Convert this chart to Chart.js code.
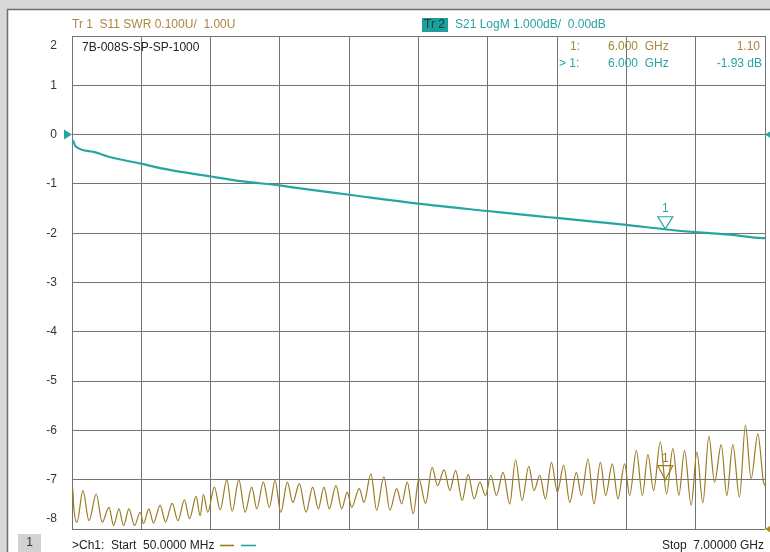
<!DOCTYPE html>
<html>
<head>
<meta charset="utf-8">
<script src="https://cdn.jsdelivr.net/npm/chart.js@4.4.1/dist/chart.umd.min.js"></script>
<style>
html,body{margin:0;padding:0;background:#fff;}
canvas{display:block;}
</style>
</head>
<body>
<canvas id="c" width="770" height="552" style="width:770px;height:552px"></canvas>
<script>
// ---- data ----
const xGridGHz = [0.05, 0.745, 1.44, 2.135, 2.83, 3.525, 4.22, 4.915, 5.61, 6.305, 7.0];
const yTickLabels = [2, 1, 0, -1, -2, -3, -4, -5, -6, -7, -8];

const s21Freq = [0.05,0.06,0.083,0.266,0.434,0.744,0.934,1.442,1.769,2.130,2.337,2.831,3.522,4.217,4.741,4.908,5.610,5.993,6.301,6.645,6.978,7.0];
const s21dB   = [-0.17,-0.12,-0.23,-0.35,-0.46,-0.59,-0.68,-0.85,-0.95,-1.03,-1.09,-1.22,-1.40,-1.55,-1.66,-1.69,-1.83,-1.92,-1.98,-2.03,-2.10,-2.10];

const s11Freq = [0.05,0.058,0.066,0.100,0.160,0.220,0.293,0.353,0.421,0.467,0.521,0.567,0.621,0.677,0.734,0.767,0.821,0.867,0.934,0.988,1.055,1.112,1.178,1.228,1.295,1.335,1.368,1.412,1.478,1.536,1.603,1.656,1.723,
1.786,1.853,1.903,1.969,2.029,2.086,2.144,2.210,2.264,2.330,2.397,2.464,2.520,2.577,2.630,2.697,2.755,2.811,2.855,2.931,2.978,3.048,3.105,3.178,3.238,3.306,3.356,3.412,3.472,
3.529,3.596,3.662,3.716,3.782,3.839,3.897,3.963,4.023,4.083,4.140,4.197,4.250,4.307,4.373,4.440,4.498,4.564,4.631,4.684,4.741,4.798,4.858,4.918,4.981,5.042,5.108,5.159,5.225,5.285,
5.349,5.402,5.469,5.525,5.592,5.643,5.710,5.770,5.826,5.883,5.950,6.013,6.076,6.136,6.193,6.260,6.317,6.377,6.437,6.494,6.561,6.617,6.677,6.744,6.804,6.861,6.928,6.985,7.0];
const s11SWR = [1.068,1.082,1.048,1.014,1.078,1.017,1.071,1.014,1.044,1.007,1.041,1.007,1.041,1.007,1.034,1.011,1.041,1.012,1.048,1.014,1.052,1.017,1.059,1.021,1.066,1.027,1.070,1.034,1.085,1.039,1.100,1.036,1.100,
1.034,1.085,1.041,1.095,1.044,1.098,1.034,1.095,1.054,1.092,1.034,1.085,1.041,1.085,1.041,1.088,1.041,1.075,1.044,1.082,1.054,1.112,1.038,1.106,1.038,1.082,1.051,1.095,1.031,
1.102,1.052,1.125,1.088,1.120,1.078,1.119,1.058,1.111,1.061,1.095,1.068,1.109,1.068,1.115,1.051,1.140,1.058,1.127,1.078,1.109,1.061,1.135,1.075,1.129,1.054,1.115,1.068,1.142,1.051,
1.135,1.068,1.132,1.061,1.132,1.068,1.159,1.068,1.151,1.078,1.177,1.071,1.163,1.068,1.159,1.048,1.156,1.053,1.188,1.095,1.171,1.068,1.171,1.065,1.210,1.102,1.193,1.095,1.088];

const markerFreq = 6.0;
const markerS11 = 1.10;
const markerS21 = -1.93;

const headerTr1 = "Tr 1  S11 SWR 0.100U/  1.00U";
const headerTr2 = "S21 LogM 1.000dB/  0.00dB";
const deviceName = "7B-008S-SP-SP-1000";
const startText = ">Ch1:  Start  50.0000 MHz";
const stopText = "Stop  7.00000 GHz";

// ---- styles ----
const BROWN = '#9a7b24';
const BROWN_TXT = '#a8893c';
const TEAL = '#26a6a2';
const TEAL_TXT = '#2aa2a2';
const FONT = "12px 'Liberation Sans', Arial, sans-serif";

function zip(a, b) { const n = Math.min(a.length, b.length); const r = []; for (let i = 0; i < n; i++) r.push({x: a[i], y: b[i]}); return r; }

function tri(ctx, x, y, w, h, dir) {
  ctx.beginPath();
  if (dir === 'down') { ctx.moveTo(x - w/2, y - h); ctx.lineTo(x + w/2, y - h); ctx.lineTo(x, y); }
  else if (dir === 'right') { ctx.moveTo(x - w, y - h/2); ctx.lineTo(x, y); ctx.lineTo(x - w, y + h/2); }
  else { ctx.moveTo(x + w, y - h/2); ctx.lineTo(x, y); ctx.lineTo(x + w, y + h/2); }
  ctx.closePath();
}

const overlay = {
  id: 'overlay',
  beforeDraw(chart) {
    const ctx = chart.ctx, W = chart.width, H = chart.height;
    ctx.save();
    ctx.fillStyle = '#ffffff'; ctx.fillRect(0, 0, W, H);
    ctx.fillStyle = '#d8d8d8'; ctx.fillRect(0, 0, W, 9); ctx.fillRect(0, 0, 7, H);
    ctx.strokeStyle = '#6e6e6e'; ctx.lineWidth = 1.5;
    ctx.beginPath(); ctx.moveTo(7.5, H); ctx.lineTo(7.5, 9.5); ctx.lineTo(W, 9.5); ctx.stroke();
    ctx.restore();
  },
  afterDatasetsDraw(chart) {
    const ctx = chart.ctx, xs = chart.scales.x, ys = chart.scales.y, y2 = chart.scales.y2;
    const mx = xs.getPixelForValue(markerFreq);
    ctx.save();
    ctx.lineWidth = 1.2;
    // S21 marker
    const m21y = ys.getPixelForValue(markerS21);
    ctx.strokeStyle = TEAL; tri(ctx, mx, m21y - 1, 15, 12, 'down'); ctx.stroke();
    ctx.fillStyle = TEAL; ctx.font = FONT; ctx.textAlign = 'center'; ctx.textBaseline = 'middle';
    ctx.fillText('1', mx, m21y - 21);
    // S11 marker
    const m11y = y2.getPixelForValue(markerS11);
    ctx.strokeStyle = BROWN; tri(ctx, mx, m11y, 15, 14, 'down'); ctx.stroke();
    ctx.fillStyle = BROWN; ctx.fillText('1', mx, m11y - 21);
    ctx.restore();
  },
  afterDraw(chart) {
    const ctx = chart.ctx, xs = chart.scales.x, ys = chart.scales.y, y2 = chart.scales.y2;
    const a = chart.chartArea;
    ctx.save();
    ctx.font = FONT;
    ctx.textBaseline = 'middle';
    // y tick labels
    ctx.fillStyle = '#333333'; ctx.textAlign = 'right';
    yTickLabels.forEach(v => {
      let py = ys.getPixelForValue(v);
      if (v === yTickLabels[0]) py += 10;
      if (v === yTickLabels[yTickLabels.length - 1]) py -= 10;
      ctx.fillText(String(v), 57, py);
    });
    // headers
    ctx.textAlign = 'left';
    ctx.fillStyle = BROWN_TXT; ctx.fillText(headerTr1, 72, 25);
    ctx.fillStyle = '#1e9e9c'; ctx.fillRect(422, 18, 26, 14);
    ctx.fillStyle = '#143c3c'; ctx.fillText('Tr 2', 424, 25);
    ctx.fillStyle = TEAL_TXT; ctx.fillText(headerTr2, 455, 25);
    // device name
    ctx.fillStyle = '#222222'; ctx.fillText(deviceName, 82, 48);
    // marker readout
    ctx.fillStyle = BROWN_TXT;
    ctx.fillText('1:', 570, 47);
    ctx.fillText('6.000  GHz', 608, 47);
    ctx.textAlign = 'right'; ctx.fillText(markerS11.toFixed(2), 760, 47);
    ctx.fillStyle = TEAL_TXT; ctx.textAlign = 'left';
    ctx.fillText('> 1:', 559, 64);
    ctx.fillText('6.000  GHz', 608, 64);
    ctx.textAlign = 'right'; ctx.fillText(markerS21.toFixed(2) + ' dB', 762, 64);
    // reference triangles
    const y0 = ys.getPixelForValue(0);
    ctx.fillStyle = TEAL;
    tri(ctx, a.left, y0, 8, 10, 'right'); ctx.fill();
    tri(ctx, a.right, y0, 8, 10, 'left'); ctx.fill();
    ctx.fillStyle = '#b38a1e';
    tri(ctx, a.right, y2.getPixelForValue(1.0), 8, 10, 'left'); ctx.fill();
    // bottom bar
    ctx.fillStyle = '#d2d2d2'; ctx.fillRect(18, 534, 23, 18);
    ctx.fillStyle = '#333333'; ctx.textAlign = 'center'; ctx.fillText('1', 29.5, 543);
    ctx.textAlign = 'left'; ctx.fillStyle = '#222222';
    ctx.fillText(startText, 72, 546);
    ctx.lineWidth = 1.6;
    ctx.strokeStyle = BROWN; ctx.beginPath(); ctx.moveTo(220, 545.5); ctx.lineTo(234, 545.5); ctx.stroke();
    ctx.strokeStyle = TEAL; ctx.beginPath(); ctx.moveTo(241, 545.5); ctx.lineTo(256, 545.5); ctx.stroke();
    ctx.textAlign = 'right'; ctx.fillStyle = '#222222';
    ctx.fillText(stopText, 764, 546);
    ctx.restore();
  }
};

const gridStyle = { color: '#737373', lineWidth: 1, drawTicks: false };

new Chart(document.getElementById('c'), {
  type: 'line',
  data: {
    datasets: [
      { label: 'S21', data: zip(s21Freq, s21dB), yAxisID: 'y', borderColor: TEAL, borderWidth: 2.2,
        pointRadius: 0, cubicInterpolationMode: 'monotone', fill: false },
      { label: 'S11', data: zip(s11Freq, s11SWR), yAxisID: 'y2', borderColor: BROWN, borderWidth: 1.2,
        pointRadius: 0, cubicInterpolationMode: 'monotone', fill: false }
    ]
  },
  options: {
    responsive: false,
    animation: false,
    events: [],
    layout: { padding: { left: 72, top: 36, right: 5, bottom: 23 } },
    plugins: { legend: { display: false }, tooltip: { enabled: false }, title: { display: false } },
    scales: {
      x: { type: 'linear', min: 0.05, max: 7,
           afterBuildTicks: s => { s.ticks = xGridGHz.map(v => ({ value: v })); },
           ticks: { display: false }, grid: gridStyle, border: { display: false },
           afterFit: s => { s.height = 0; } },
      y: { type: 'linear', min: -8, max: 2,
           afterBuildTicks: s => { s.ticks = yTickLabels.map(v => ({ value: v })); },
           ticks: { display: false }, grid: gridStyle, border: { display: false },
           afterFit: s => { s.width = 0; } },
      y2: { type: 'linear', min: 1, max: 2, display: false }
    }
  },
  plugins: [overlay]
});
</script>
</body>
</html>
